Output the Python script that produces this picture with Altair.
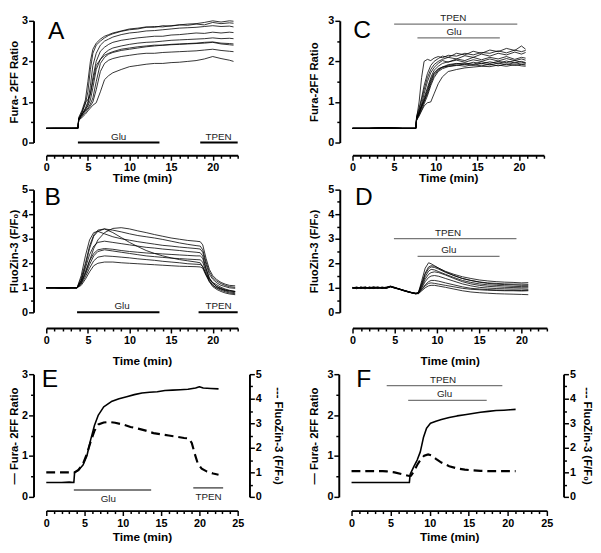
import altair as alt
import pandas as pd

# ---------------- data ----------------
# Panel A: Fura-2FF ratio, 9 cells
tA = [0, 1, 2, 3, 3.8, 3.9, 4.3, 4.7, 5.0, 5.3, 5.6, 6.0, 6.5, 7.0, 7.5, 8, 9, 10, 11, 12, 13, 14, 15, 16, 17, 18, 19, 20, 21, 22, 22.5]
A1 = [0.35, 0.35, 0.36, 0.35, 0.36, 0.62, 0.8, 1.05, 1.5, 2.0, 2.3, 2.45, 2.55, 2.62, 2.66, 2.7, 2.75, 2.8, 2.82, 2.85, 2.84, 2.88, 2.87, 2.9, 2.92, 2.93, 2.96, 3.0, 2.97, 3.0, 2.99]
A2 = [0.35, 0.35, 0.35, 0.36, 0.35, 0.58, 0.75, 0.95, 1.25, 1.8, 2.2, 2.4, 2.5, 2.58, 2.64, 2.68, 2.74, 2.78, 2.8, 2.84, 2.86, 2.85, 2.88, 2.9, 2.89, 2.92, 2.9, 2.96, 2.93, 2.95, 2.94]
A3 = [0.35, 0.36, 0.35, 0.35, 0.36, 0.6, 0.7, 0.85, 1.0, 1.4, 1.9, 2.2, 2.4, 2.5, 2.55, 2.6, 2.66, 2.7, 2.72, 2.75, 2.76, 2.78, 2.8, 2.82, 2.83, 2.84, 2.86, 2.88, 2.86, 2.87, 2.85]
A4 = [0.35, 0.35, 0.35, 0.35, 0.35, 0.55, 0.68, 0.8, 0.95, 1.2, 1.6, 2.0, 2.25, 2.35, 2.42, 2.47, 2.52, 2.55, 2.58, 2.6, 2.62, 2.62, 2.65, 2.66, 2.68, 2.7, 2.69, 2.72, 2.7, 2.72, 2.71]
A5 = [0.35, 0.35, 0.35, 0.35, 0.35, 0.57, 0.7, 0.82, 0.9, 1.05, 1.35, 1.8, 2.05, 2.2, 2.28, 2.33, 2.38, 2.42, 2.45, 2.47, 2.48, 2.5, 2.52, 2.53, 2.54, 2.55, 2.56, 2.58, 2.56, 2.57, 2.56]
A6 = [0.35, 0.35, 0.35, 0.35, 0.35, 0.55, 0.75, 1.0, 1.05, 1.2, 1.5, 1.9, 2.05, 2.15, 2.2, 2.24, 2.3, 2.33, 2.36, 2.38, 2.4, 2.4, 2.42, 2.43, 2.44, 2.45, 2.47, 2.48, 2.45, 2.44, 2.43]
A7 = [0.35, 0.35, 0.35, 0.35, 0.35, 0.6, 0.7, 0.78, 0.85, 0.95, 1.1, 1.5, 1.95, 2.1, 2.18, 2.22, 2.27, 2.3, 2.33, 2.36, 2.38, 2.4, 2.41, 2.42, 2.43, 2.44, 2.45, 2.47, 2.43, 2.41, 2.4]
A8 = [0.35, 0.35, 0.35, 0.35, 0.35, 0.55, 0.65, 0.75, 0.82, 0.9, 1.0, 1.3, 1.75, 1.95, 2.03, 2.07, 2.12, 2.15, 2.18, 2.2, 2.2, 2.22, 2.23, 2.24, 2.25, 2.26, 2.28, 2.3, 2.27, 2.25, 2.24]
A9 = [0.35, 0.35, 0.35, 0.35, 0.35, 0.55, 0.62, 0.7, 0.78, 0.85, 0.92, 0.98, 1.25, 1.55, 1.65, 1.72, 1.8, 1.87, 1.9, 1.93, 1.95, 1.95, 1.97, 1.98, 2.0, 2.02, 2.06, 2.12, 2.07, 2.03, 2.0]

# Panel C: Fura-2FF ratio with TPEN, 10 cells
tC = [0, 2, 4, 6, 7.6, 7.7, 8.0, 8.3, 8.6, 9.0, 9.4, 9.8, 10.3, 10.8, 11.5, 12.5, 13.5, 14.5, 15.5, 16.5, 17.5, 18.5, 19.5, 20.3, 20.8]
C_base = [0.35, 0.35, 0.36, 0.35, 0.35]
C1 = [0.6, 1.0, 1.6, 2.0, 2.05, 2.02, 2.08, 2.12, 2.09, 2.15, 2.13, 2.2, 2.16, 2.22, 2.2, 2.26, 2.21, 2.28, 2.24, 2.27]
C2 = [0.65, 0.85, 1.1, 1.4, 1.7, 1.9, 2.0, 2.07, 2.13, 2.1, 2.2, 2.16, 2.25, 2.2, 2.28, 2.24, 2.32, 2.27, 2.38, 2.3]
C3 = [0.6, 0.8, 1.05, 1.3, 1.6, 1.8, 1.92, 2.0, 2.05, 2.1, 2.06, 2.14, 2.1, 2.18, 2.13, 2.2, 2.16, 2.23, 2.18, 2.22]
C4 = [0.55, 0.75, 0.95, 1.2, 1.5, 1.72, 1.85, 1.95, 2.02, 1.98, 2.06, 2.02, 2.1, 2.04, 2.1, 2.06, 2.12, 2.05, 2.1, 2.08]
C5 = [0.58, 0.72, 0.9, 1.1, 1.35, 1.6, 1.78, 1.88, 1.95, 1.99, 2.03, 1.98, 2.04, 2.0, 2.06, 2.01, 2.07, 2.02, 2.06, 2.03]
C6 = [0.6, 0.7, 0.85, 1.0, 1.25, 1.5, 1.7, 1.8, 1.86, 1.92, 1.95, 1.92, 1.98, 1.94, 1.99, 1.95, 2.01, 1.96, 2.0, 1.97]
C7 = [0.55, 0.68, 0.8, 0.95, 1.15, 1.4, 1.6, 1.75, 1.82, 1.87, 1.9, 1.94, 1.9, 1.95, 1.91, 1.96, 1.92, 1.97, 1.93, 1.94]
C8 = [0.62, 0.75, 0.9, 1.05, 1.3, 1.55, 1.72, 1.82, 1.86, 1.88, 1.91, 1.88, 1.92, 1.89, 1.93, 1.89, 1.94, 1.9, 1.93, 1.91]
C9 = [0.55, 0.65, 0.78, 0.9, 0.98, 1.0, 1.2, 1.45, 1.62, 1.75, 1.8, 1.84, 1.86, 1.88, 1.87, 1.91, 1.88, 1.92, 1.89, 1.88]
C10 = [0.57, 0.72, 0.88, 1.02, 1.2, 1.45, 1.65, 1.78, 1.85, 1.9, 1.94, 1.96, 1.93, 1.99, 1.95, 2.0, 1.97, 2.02, 1.98, 1.96]

# Panel B: FluoZin-3 F/F0, 9 cells
tB = [0, 1, 2, 3, 3.7, 4.2, 4.7, 5.2, 5.7, 6.2, 7.0, 8, 9, 10, 11, 12, 13, 14, 15, 16, 17, 18, 18.5, 18.8, 19.2, 19.6, 20.0, 20.5, 21, 21.5, 22, 22.7]
B_base = [1.0, 1.0, 0.99, 1.0, 1.0]
B1 = [1.4, 2.0, 2.7, 3.15, 3.35, 3.4, 3.25, 3.05, 2.85, 2.68, 2.52, 2.4, 2.3, 2.22, 2.15, 2.1, 2.05, 2.02, 1.85, 1.55, 1.35, 1.22, 1.12, 1.02, 0.95, 0.9, 0.85]
B2 = [1.2, 1.6, 2.1, 2.6, 2.95, 3.25, 3.42, 3.45, 3.4, 3.32, 3.25, 3.17, 3.1, 3.03, 2.98, 2.93, 2.9, 2.88, 2.75, 2.2, 1.75, 1.5, 1.33, 1.22, 1.15, 1.1, 1.08]
B3 = [1.3, 1.9, 2.6, 3.1, 3.3, 3.4, 3.35, 3.28, 3.2, 3.13, 3.08, 3.03, 2.97, 2.9, 2.83, 2.77, 2.72, 2.7, 2.55, 2.05, 1.65, 1.42, 1.27, 1.17, 1.1, 1.05, 1.02]
B4 = [1.5, 2.3, 2.95, 3.25, 3.3, 3.2, 3.08, 3.0, 2.94, 2.88, 2.83, 2.78, 2.73, 2.7, 2.66, 2.63, 2.6, 2.58, 2.45, 1.95, 1.55, 1.35, 1.2, 1.1, 1.05, 1.0, 0.98]
B5 = [1.3, 1.8, 2.35, 2.7, 2.85, 2.9, 2.85, 2.8, 2.75, 2.7, 2.65, 2.62, 2.58, 2.55, 2.52, 2.48, 2.45, 2.43, 2.3, 1.8, 1.4, 1.2, 1.05, 0.95, 0.88, 0.83, 0.8]
B6 = [1.25, 1.65, 2.1, 2.4, 2.55, 2.6, 2.57, 2.52, 2.48, 2.45, 2.42, 2.4, 2.38, 2.36, 2.34, 2.32, 2.3, 2.3, 2.2, 1.75, 1.38, 1.18, 1.05, 0.98, 0.92, 0.88, 0.85]
B7 = [1.2, 1.55, 1.95, 2.3, 2.48, 2.55, 2.5, 2.45, 2.4, 2.35, 2.3, 2.27, 2.24, 2.21, 2.19, 2.17, 2.15, 2.14, 2.05, 1.65, 1.3, 1.1, 0.98, 0.9, 0.84, 0.79, 0.76]
B8 = [1.15, 1.45, 1.8, 2.1, 2.25, 2.3, 2.28, 2.25, 2.22, 2.18, 2.15, 2.12, 2.08, 2.05, 2.02, 1.98, 1.96, 1.95, 1.88, 1.55, 1.25, 1.05, 0.93, 0.85, 0.79, 0.75, 0.72]
B9 = [1.1, 1.35, 1.65, 1.9, 2.0, 2.05, 2.05, 2.02, 2.0, 1.98, 1.96, 1.94, 1.92, 1.9, 1.88, 1.87, 1.86, 1.85, 1.8, 1.5, 1.25, 1.1, 1.0, 0.95, 0.9, 0.87, 0.85]

# Panel D: FluoZin-3 F/F0 with TPEN, 9 cells
tD = [0, 0.5, 1, 1.5, 2, 2.5, 3, 3.5, 4, 4.5, 5, 5.5, 6, 6.5, 7, 7.5, 7.8, 8.2, 8.6, 9.0, 9.3, 9.7, 10.2, 11, 12, 13, 14, 15, 16, 17, 18, 19, 20, 20.8]
D1 = [1.0, 0.96, 1.04, 0.98, 1.03, 0.97, 1.02, 0.98, 1.03, 1.07, 1.02, 0.95, 0.9, 0.84, 0.8, 0.76,
      0.8, 1.3, 1.8, 2.02, 1.98, 1.9, 1.8, 1.65, 1.5, 1.38, 1.3, 1.23, 1.18, 1.15, 1.13, 1.12, 1.1, 1.1]
D2 = [1.0, 1.03, 0.97, 1.02, 0.98, 1.04, 0.99, 1.02, 0.99, 1.05, 1.0, 0.96, 0.9, 0.86, 0.8, 0.78,
      0.82, 1.2, 1.6, 1.85, 1.9, 1.88, 1.8, 1.67, 1.55, 1.45, 1.38, 1.32, 1.28, 1.25, 1.23, 1.22, 1.2, 1.21]
D3 = [0.98, 1.02, 1.0, 0.96, 1.03, 1.0, 0.97, 1.03, 1.0, 1.06, 1.01, 0.94, 0.88, 0.85, 0.79, 0.75,
      0.78, 1.15, 1.55, 1.78, 1.85, 1.83, 1.76, 1.63, 1.5, 1.38, 1.3, 1.24, 1.2, 1.18, 1.16, 1.15, 1.15, 1.14]
D4 = [1.02, 0.98, 1.01, 1.03, 0.97, 1.01, 1.04, 0.98, 1.01, 1.05, 0.99, 0.95, 0.89, 0.83, 0.79, 0.76,
      0.8, 1.1, 1.45, 1.68, 1.75, 1.73, 1.66, 1.55, 1.42, 1.3, 1.22, 1.16, 1.12, 1.1, 1.08, 1.06, 1.05, 1.05]
D5 = [0.99, 1.01, 0.97, 1.02, 1.0, 0.97, 1.01, 1.0, 0.97, 1.04, 1.0, 0.96, 0.91, 0.86, 0.81, 0.77,
      0.79, 1.05, 1.35, 1.55, 1.62, 1.65, 1.62, 1.52, 1.38, 1.25, 1.16, 1.1, 1.06, 1.04, 1.02, 1.01, 1.0, 1.0]
D6 = [1.01, 0.99, 1.02, 0.99, 1.01, 1.03, 0.98, 1.01, 1.02, 1.04, 0.98, 0.94, 0.9, 0.85, 0.8, 0.76,
      0.78, 1.0, 1.25, 1.42, 1.48, 1.5, 1.47, 1.38, 1.27, 1.16, 1.08, 1.02, 0.99, 0.97, 0.96, 0.95, 0.95, 0.94]
D7 = [1.0, 1.02, 0.99, 1.01, 0.97, 1.0, 1.02, 0.99, 1.01, 1.05, 1.0, 0.95, 0.9, 0.84, 0.8, 0.77,
      0.77, 0.95, 1.12, 1.25, 1.3, 1.3, 1.27, 1.2, 1.12, 1.04, 0.98, 0.95, 0.93, 0.91, 0.9, 0.9, 0.89, 0.9]
D8 = [0.97, 1.0, 1.02, 0.98, 1.0, 1.02, 1.0, 0.97, 1.0, 1.06, 1.01, 0.96, 0.9, 0.85, 0.81, 0.78,
      0.78, 0.92, 1.08, 1.18, 1.2, 1.18, 1.15, 1.1, 1.04, 0.98, 0.94, 0.92, 0.9, 0.89, 0.88, 0.88, 0.87, 0.88]
D9 = [1.0, 0.98, 1.0, 1.03, 0.99, 0.98, 1.01, 1.02, 0.98, 1.04, 0.99, 0.95, 0.89, 0.84, 0.8, 0.76,
      0.76, 0.88, 1.0, 1.08, 1.1, 1.1, 1.07, 1.02, 0.95, 0.88, 0.83, 0.8, 0.78, 0.76, 0.75, 0.74, 0.73, 0.72]

# Panel E: averages, Fura (solid, left) and FluoZin (dashed, right)
tE_fura = [0, 1, 2, 3, 3.6, 3.7, 4.2, 4.8, 5.3, 5.8, 6.3, 6.8, 7.5, 8.5, 9.5, 10.5, 11.5, 12.5, 13.5, 14.5, 15.5, 16.5, 17.5, 18.5, 19.5, 20, 20.5, 21.5, 22.5]
E_fura = [0.35, 0.35, 0.35, 0.36, 0.35, 0.6, 0.65, 0.78, 1.0, 1.4, 1.75, 2.0, 2.2, 2.33, 2.4, 2.45, 2.5, 2.54, 2.56, 2.57, 2.6, 2.61, 2.62, 2.63, 2.66, 2.69, 2.66, 2.65, 2.64]
tE_fz = [0, 3.6, 3.7, 4.2, 4.8, 5.3, 5.8, 6.3, 6.8, 7.5, 8.2, 9, 10, 11, 12, 13, 14, 15, 16, 17, 18, 18.6, 19, 19.4, 19.8, 20.3, 21, 21.8, 22.5]
E_fz = [1.0, 1.0, 1.0, 1.1, 1.35, 1.75, 2.25, 2.7, 2.95, 3.03, 3.05, 3.02, 2.95, 2.85, 2.78, 2.7, 2.6, 2.55, 2.5, 2.45, 2.4, 2.38, 2.2, 1.75, 1.35, 1.15, 1.03, 0.95, 0.9]

# Panel F: averages with TPEN
tF_fura = [0, 2, 4, 6, 7.4, 7.5, 8.0, 8.4, 8.8, 9.2, 9.6, 10.1, 10.8, 11.5, 12.5, 13.5, 14.5, 15.5, 16.5, 17.5, 18.5, 19.5, 20.3, 21]
F_fura = [0.35, 0.35, 0.35, 0.35, 0.35, 0.55, 0.75, 0.9, 1.1, 1.45, 1.68, 1.8, 1.85, 1.89, 1.94, 1.98, 2.01, 2.04, 2.07, 2.09, 2.11, 2.12, 2.13, 2.14]
tF_fz = [0, 2, 4, 4.5, 5.5, 6.5, 7.4, 7.6, 8.0, 8.4, 8.8, 9.3, 9.8, 10.3, 10.8, 11.5, 12.5, 13.5, 14.5, 15.5, 16.5, 17.5, 18.5, 19.5, 21]
F_fz = [1.05, 1.05, 1.05, 1.04, 1.0, 0.92, 0.85, 0.86, 1.05, 1.3, 1.5, 1.68, 1.73, 1.68, 1.55, 1.4, 1.25, 1.16, 1.11, 1.08, 1.06, 1.05, 1.05, 1.05, 1.05]

# Treatment bars: start, end, level, label, label position
A_bar_start = [3.8, 18.5]; A_bar_end = [13.6, 23.0]; A_bar_level = [0, 0]; A_bar_label = ["Glu", "TPEN"]; A_label_t = [8.7, 20.7]
B_bar_start = [3.7, 18.3]; B_bar_end = [13.6, 23.0]; B_bar_level = [0, 0]; B_bar_label = ["Glu", "TPEN"]; B_label_t = [9.1, 20.7]
C_bar_start = [5.0, 7.8]; C_bar_end = [19.8, 17.7]; C_bar_level = [2.92, 2.58]; C_bar_label = ["TPEN", "Glu"]; C_label_t = [12.1, 12.2]
D_bar_start = [4.9, 7.7]; D_bar_end = [19.4, 17.4]; D_bar_level = [3.0, 2.28]; D_bar_label = ["TPEN", "Glu"]; D_label_t = [11.3, 11.4]
E_bar_start = [3.6, 19.2]; E_bar_end = [13.7, 23.1]; E_bar_level = [0.17, 0.22]; E_bar_label = ["Glu", "TPEN"]; E_label_t = [8.1, 21.2]
F_bar_start = [4.5, 7.25]; F_bar_end = [19.3, 17.3]; F_bar_level = [2.72, 2.36]; F_bar_label = ["TPEN", "Glu"]; F_label_t = [11.7, 11.9]

# Panel letters: t, level
letters = {"A": (0.2, 2.42), "B": (-0.2, 4.19), "C": (0.1, 2.45), "D": (0.3, 4.19), "E": (-0.6, 2.57), "F": (0.6, 2.57)}

# ---------------- helpers ----------------
FONT = "Liberation Sans, Arial, DejaVu Sans, sans-serif"
BLACK = "#000000"


def traces_df(times, traces):
    rows = []
    for i, vals in enumerate(traces):
        for t, v in zip(times, vals):
            rows.append({"t": t, "v": v, "id": i})
    return pd.DataFrame(rows)


def x_axis(xmax, xa):
    offset, label_pad, title_pad = xa
    return alt.Axis(
        values=[float(v) for v in range(0, xmax + 1)],
        labelExpr="datum.value % 5 === 0 ? '' + datum.value : ''",
        tickSize={"condition": {"test": "datum.value % 5 === 0", "value": 5}, "value": 3},
        offset=offset, title="Time (min)", grid=False,
        domainColor=BLACK, domainWidth=2, tickColor=BLACK, tickWidth=1.5,
        labelFont=FONT, labelFontSize=11, labelFontWeight="bold", labelColor=BLACK, labelPadding=label_pad,
        labelOverlap=False, labelFlush=False,
        titleFont=FONT, titleFontSize=12, titleFontWeight="bold", titleColor=BLACK, titlePadding=title_pad,
    )


def y_axis(ymax, title, orient="left", offset=13, title_pad=1):
    vals = [i * 0.5 for i in range(int(ymax * 2) + 1)]
    return alt.Axis(
        values=vals, orient=orient,
        labelExpr="datum.value % 1 === 0 ? '' + datum.value : ''",
        tickSize={"condition": {"test": "datum.value % 1 === 0", "value": 5}, "value": 3},
        offset=offset, title=title, grid=False,
        domainColor=BLACK, domainWidth=2, tickColor=BLACK, tickWidth=1.5,
        labelFont=FONT, labelFontSize=11, labelFontWeight="bold", labelColor=BLACK, labelPadding=1,
        labelOverlap=False, labelFlush=False,
        titleFont=FONT, titleFontSize=11.5, titleFontWeight="bold", titleColor=BLACK, titlePadding=title_pad,
    )


def base_layers(lines, bars, letter, xmax, ymax, ytitle, line_w, bar_color, bar_w, label_above, title_pad, xa):
    start, end, level, label, lt = bars
    bar_df = pd.DataFrame({"t": start, "t2": end, "v": level})
    lab_df = pd.DataFrame({"t": lt, "v": level, "label": label})
    x = alt.X("t:Q", scale=alt.Scale(domain=[0, xmax], nice=False, zero=False), axis=x_axis(xmax, xa))
    y = alt.Y("v:Q", scale=alt.Scale(domain=[0, ymax], nice=False, zero=False),
              axis=y_axis(ymax, ytitle, title_pad=title_pad))
    ln = alt.Chart(lines).mark_line(color=BLACK, strokeWidth=line_w, strokeJoin="round").encode(
        x=x, y=y, detail="id:N")
    br = alt.Chart(bar_df).mark_rule(color=bar_color, strokeWidth=bar_w).encode(x=x, x2="t2:Q", y=y)
    lab = alt.Chart(lab_df).mark_text(
        font=FONT, fontSize=10, color="#222222",
        baseline="bottom" if label_above else "top", dy=-1 if label_above else 4,
    ).encode(x=x, y=y, text="label:N")
    let_df = pd.DataFrame({"t": [letter[1][0]], "v": [letter[1][1]], "label": [letter[0]]})
    let = alt.Chart(let_df).mark_text(font=FONT, fontSize=25, color=BLACK, align="left", baseline="bottom").encode(
        x=x, y=y, text="label:N")
    return [ln, br, lab, let]


def simple_panel(name, times, traces, bars, xmax, ymax, ytitle, w, h, bar_color, bar_w, title_pad, xa):
    layers = base_layers(traces_df(times, traces), bars, (name, letters[name]), xmax, ymax, ytitle,
                         0.8, bar_color, bar_w, True, title_pad, xa)
    return alt.layer(*layers).properties(width=w, height=h)


def dual_panel(name, tf, fura, tz, fz, bars, xmax, w, h, bar_color, bar_w, label_above, right_offset,
               title_pad, right_title_pad, xa):
    layers = base_layers(traces_df(tf, [fura]), bars, (name, letters[name]), xmax, 3, "\u2014 Fura- 2FF Ratio",
                         1.6, bar_color, bar_w, label_above, title_pad, xa)
    left = alt.layer(*layers)
    x = alt.X("t:Q", scale=alt.Scale(domain=[0, xmax], nice=False, zero=False), axis=x_axis(xmax, xa))
    yr = alt.Y("v:Q", scale=alt.Scale(domain=[0, 5], nice=False, zero=False),
               axis=y_axis(5, "--- FluoZin-3 (F/F\u2080)", orient="right", offset=right_offset,
                           title_pad=right_title_pad))
    dashed = alt.Chart(traces_df(tz, [fz])).mark_line(color=BLACK, strokeWidth=2.2, strokeDash=[9, 5]).encode(
        x=x, y=yr, detail="id:N")
    return alt.layer(left, dashed).resolve_scale(y="independent").properties(width=w, height=h)


XA_ROW1 = (13, 1, 1)
XA_ROW2 = (16, 2, 10)
XA_ROW3 = (14, 2, 3)

pA = simple_panel("A", tA, [A1, A2, A3, A4, A5, A6, A7, A8, A9],
                  (A_bar_start, A_bar_end, A_bar_level, A_bar_label, A_label_t),
                  23, 3, "Fura- 2FF Ratio", 195, 124, BLACK, 2, 2, XA_ROW1)
pC = simple_panel("C", tC, [C_base + c for c in [C1, C2, C3, C4, C5, C6, C7, C8, C9, C10]],
                  (C_bar_start, C_bar_end, C_bar_level, C_bar_label, C_label_t),
                  23, 3, "Fura-2FF Ratio", 195, 124, "#777777", 1.3, 9, XA_ROW1)
pB = simple_panel("B", tB, [B_base + b for b in [B1, B2, B3, B4, B5, B6, B7, B8, B9]],
                  (B_bar_start, B_bar_end, B_bar_level, B_bar_label, B_label_t),
                  23, 5, "FluoZin-3 (F/F\u2080)", 195, 125, BLACK, 2, 2, XA_ROW2)
pD = simple_panel("D", tD, [D1, D2, D3, D4, D5, D6, D7, D8, D9],
                  (D_bar_start, D_bar_end, D_bar_level, D_bar_label, D_label_t),
                  23, 5, "FluoZin-3 (F/F\u2080)", 198, 125, "#777777", 1.3, 9, XA_ROW2)
pE = dual_panel("E", tE_fura, E_fura, tE_fz, E_fz,
                (E_bar_start, E_bar_end, E_bar_level, E_bar_label, E_label_t),
                25, 195, 125, "#555555", 1.5, False, 12, 2, 11, XA_ROW3)
pF = dual_panel("F", tF_fura, F_fura, tF_fz, F_fz,
                (F_bar_start, F_bar_end, F_bar_level, F_bar_label, F_label_t),
                25, 199, 125, "#777777", 1.3, True, 17, 8, 6, XA_ROW3)

chart = alt.vconcat(
    alt.hconcat(pA, pC, spacing=70),
    alt.hconcat(pB, pD, spacing=70),
    alt.hconcat(pE, pF, spacing=24),
    spacing=0,
).properties(padding=0).configure_view(stroke=None)

chart.save("out.html", embed_options={"renderer": "svg", "actions": False})
